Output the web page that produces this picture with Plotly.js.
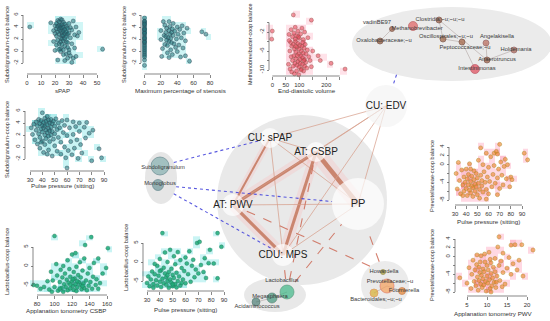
<!DOCTYPE html>
<html><head><meta charset="utf-8">
<script src="https://cdn.plot.ly/plotly-3.0.1.min.js"></script>
<style>html,body{margin:0;padding:0;background:#fff}#chart{width:550px;height:321px}</style>
</head><body><div id="chart"></div>
<script>
// ================= DATA =================
const pts_sPAP_subdo = [[2,4],[17,4.7],[19,3.4],[20,2.9],[20,4.2],[21,4.6],[21,2.5],[21,3.7],[22,4.1],[22,3.2],[22,1.8],[22,5.1],[23,4.9],[23,3.6],[23,2.8],[23,1.2],[23,4.3],[24,4.2],[24,3.4],[24,2.2],[24,1.5],[24,0.4],[24,5.3],[24,3.9],[25,5.2],[25,4.4],[25,3.8],[25,3.0],[25,2.0],[25,1.1],[25,2.6],[26,4.8],[26,4.0],[26,3.3],[26,2.6],[26,1.7],[26,0.2],[27,4.5],[27,3.6],[27,2.9],[27,0.8],[27,2.1],[28,4.1],[28,3.2],[28,2.4],[28,-0.5],[28,1.5],[29,3.8],[29,2.8],[29,1.4],[29,-1.2],[30,4.6],[30,3.0],[30,0.2],[30,-0.3],[31,2.2],[31,-0.8],[31,3.9],[32,3.5],[32,1.2],[32,-1.9],[33,5.0],[33,-1.2],[34,0.5],[34,2.7],[35,4.0],[35,-0.9],[36,2.5],[37,3.1],[22,-1.5],[26,-0.6],[24,-0.1],[27,-1.6],[29,0.6],[23,0.3],[40,-3.4],[54,0.3],[21,1.0],[20,0.1],[19,1.6]];
const pts_stenosis_subdo = [[0,5.5],[0,5.0],[0,4.7],[0,4.4],[0,4.1],[0,3.8],[0,3.5],[0,3.2],[0,2.9],[0,2.6],[0,2.3],[0,2.0],[0,1.7],[0,1.4],[0,1.1],[0,0.8],[0,0.5],[0,0.2],[0,-0.1],[0,-0.4],[0,-0.7],[0,-1.0],[0,-1.5],[0,4.9],[0,3.0],[0,2.1],[0,3.6],[0,4.5],[0,1.5],[0,-2.4],[20,3.4],[20,1.9],[21,-0.9],[22,0.4],[23,4.9],[24,2.6],[25,4.3],[25,1.1],[26,2.4],[27,3.8],[28,-0.3],[28,0.9],[29,2.2],[30,3.4],[30,1.6],[30,-1.1],[31,4.1],[31,2.8],[32,0.2],[32,2.1],[33,3.1],[33,1.4],[34,-0.6],[35,4.6],[35,2.6],[36,1.2],[37,3.3],[38,0.6],[39,2.0],[40,4.0],[40,-0.1],[41,2.8],[42,1.0],[43,3.6],[44,-1.0],[45,2.2],[46,4.2],[47,0.5],[48,3.0],[50,1.7],[50,-0.8],[52,3.8],[55,-1.7],[30,4.9],[26,3.1],[34,3.7],[27,1.8],[70,3.2],[75,2.8],[90,-3.3]];
const pts_EDV_methano = [[78,1.6],[145,0.5],[0,-1.8],[-2,-3.5],[62,-2.5],[70,-1.5],[75,-3.0],[80,-2.2],[85,-1.0],[90,-2.8],[95,-1.8],[100,-3.3],[105,-2.4],[110,-1.2],[115,-3.6],[120,-2.0],[68,-4.2],[72,-5.0],[78,-4.6],[82,-5.6],[86,-4.0],[88,-6.2],[92,-5.2],[95,-4.4],[98,-6.6],[100,-5.6],[102,-4.8],[105,-7.0],[108,-6.0],[110,-5.0],[112,-7.4],[115,-6.4],[118,-5.4],[120,-7.8],[125,-6.6],[130,-5.8],[65,-6.0],[70,-7.2],[75,-8.0],[80,-7.0],[84,-8.6],[88,-7.6],[92,-9.0],[96,-8.2],[100,-9.4],[104,-8.6],[108,-9.8],[112,-8.8],[116,-10.2],[120,-9.2],[124,-8.4],[128,-9.6],[135,-7.2],[140,-8.0],[60,-8.8],[66,-9.8],[72,-10.4],[82,-10.8],[90,-10.2],[98,-11.0],[107,-10.0],[85,-3.5],[93,-7.0],[97,-3.0],[103,-7.8],[113,-4.2],[122,-4.6],[77,-9.2],[87,-5.0],[117,-8.0],[170,-7.0],[178,-8.0],[218,-8.6],[270,-9.8],[145,-9.3],[150,-6.0],[132,-3.2],[63,-3.8]];
const pts_PP_subdo = [[31,3.2],[32,2.1],[33,3.8],[34,1.2],[35,4.2],[35,2.8],[36,0.5],[36,3.5],[37,4.6],[37,2.2],[38,3.9],[38,1.6],[38,-0.2],[39,4.4],[39,3.0],[40,5.7],[40,3.6],[40,2.5],[40,1.0],[41,4.1],[41,3.2],[41,-0.9],[42,4.8],[42,3.5],[42,2.0],[42,0.4],[43,4.3],[43,2.8],[43,1.4],[44,5.1],[44,3.7],[44,2.4],[45,4.5],[45,3.1],[45,1.8],[45,-0.5],[46,4.0],[46,2.7],[46,0.9],[47,4.6],[47,3.3],[47,2.0],[48,3.9],[48,2.6],[48,-1.5],[49,4.3],[49,1.3],[50,3.5],[50,2.2],[50,0.2],[51,4.7],[52,2.9],[52,-0.7],[53,4.0],[53,1.6],[54,3.2],[55,0.8],[55,-1.2],[56,4.4],[57,2.4],[58,0.0],[58,3.6],[59,-1.8],[60,4.5],[60,1.9],[61,-0.6],[62,3.2],[63,0.9],[64,-1.3],[65,4.2],[65,2.1],[66,-0.2],[67,3.4],[68,1.2],[69,-1.9],[70,4.0],[70,2.6],[71,0.4],[72,-1.0],[74,3.3],[75,1.5],[76,4.1],[78,2.3],[60,-3.5],[80,-2.3],[81,2.8],[86,-0.3],[88,-1.8],[44,-1.2],[39,0.8]];
const pts_CSBP_lacto = [[76,-5.0],[80,-5.2],[84,-6.0],[88,-5.5],[92,-4.0],[94,-6.2],[96,-1.5],[98,-3.8],[100,7.9],[100,-5.5],[102,0.5],[103,-2.5],[104,-6.5],[106,-4.2],[107,-1.0],[108,-5.8],[109,-3.0],[110,-6.8],[110,0.0],[111,-4.8],[112,-2.0],[113,-5.5],[114,-3.6],[115,-6.4],[115,1.5],[116,-4.4],[117,-0.8],[118,-5.9],[118,-2.8],[119,-6.9],[120,-4.0],[120,3.0],[121,-5.2],[122,-1.6],[122,-6.3],[123,-3.3],[124,3.4],[124,-4.8],[125,-6.6],[125,-0.2],[126,-5.6],[127,-2.4],[128,-4.3],[128,-6.9],[129,1.0],[130,-5.0],[130,-3.0],[131,-6.1],[132,-1.2],[133,-4.6],[134,-5.8],[134,2.0],[135,5.5],[136,-3.8],[137,-6.4],[138,-2.0],[139,-5.2],[140,-0.5],[141,-4.2],[142,7.6],[143,-6.0],[144,-2.8],[145,0.8],[147,-5.0],[148,-3.5],[150,2.0],[150,-6.0],[152,-4.5],[155,-2.0],[159,-0.5],[161,4.7],[112,-7.0],[118,-4.9],[126,-4.0],[121,-3.5],[132,-5.3],[106,-6.0],[97,-6.8]];
const pts_PP_lacto = [[30,-5.5],[31,-3.8],[32,-6.4],[33,-4.6],[34,-2.5],[35,-5.8],[35,-6.8],[36,-3.2],[37,-4.8],[38,-1.0],[38,-6.2],[39,-3.6],[40,-5.2],[40,0.8],[41,-6.6],[41,-2.2],[42,7.6],[42,-4.4],[43,-5.6],[43,-1.5],[44,-3.0],[44,2.5],[45,-6.0],[45,-4.0],[46,-5.0],[46,0.0],[47,-2.6],[47,-6.8],[48,-4.6],[48,3.2],[49,-5.4],[49,-1.8],[50,-3.4],[50,-6.4],[51,1.5],[51,-4.2],[52,-5.8],[52,-0.6],[53,-2.8],[54,-5.0],[54,2.6],[55,-3.8],[56,-6.2],[56,0.5],[57,-1.6],[58,-4.6],[59,-2.4],[60,-5.6],[60,1.2],[61,-0.4],[62,-3.2],[63,2.8],[64,-5.2],[65,-1.0],[66,0.6],[67,-4.0],[68,-2.0],[69,5.0],[70,-3.0],[71,5.3],[72,-0.8],[74,-2.6],[75,1.0],[76,-4.2],[78,-0.3],[79,3.2],[82,-0.4],[85,-4.3],[85,7.6],[88,4.0],[44,-6.9],[50,-5.9],[53,-6.7],[46,-3.5],[57,-5.5],[40,-2.4],[36,-0.5]];
const pts_PP_prevo = [[31,-2.0],[32,-5.5],[33,0.5],[34,-3.6],[35,-6.6],[36,-1.2],[37,-4.6],[38,-2.8],[38,-6.0],[39,-4.0],[40,-5.4],[40,-1.0],[41,-3.2],[41,-7.0],[42,-4.6],[42,-2.2],[43,-5.8],[43,0.2],[44,-3.8],[44,-6.4],[45,-4.8],[45,-2.6],[46,-5.2],[46,-7.2],[47,-3.4],[47,-1.4],[48,-4.4],[48,-6.0],[49,-2.0],[49,-5.0],[50,-3.0],[50,-6.8],[51,-4.2],[51,1.0],[52,-5.6],[52,-7.6],[53,-2.4],[54,-4.8],[54,-3.6],[55,-6.2],[55,0.0],[56,-1.6],[57,-4.0],[58,-5.6],[58,2.6],[59,-2.8],[60,-0.6],[60,-6.6],[61,-3.8],[62,1.8],[63,-5.0],[64,-2.2],[65,-0.2],[65,2.6],[66,-4.2],[67,3.0],[68,-3.0],[68,-6.8],[69,-1.0],[70,4.6],[70,-5.4],[71,0.6],[72,-2.4],[73,-4.6],[74,-0.4],[75,1.2],[76,-3.2],[77,0.0],[79,-5.0],[80,-2.8],[81,-3.4],[92,2.6],[95,1.1],[68,2.4],[58,-7.8],[44,-1.0],[37,-7.0],[53,3.8]];
const pts_PWV_prevo = [[3.2,-4.8],[5,-6.0],[5.5,-2.5],[6,-7.2],[6.2,-4.0],[6.5,-0.8],[6.8,-5.6],[7,-3.0],[7.2,-6.6],[7.4,-1.8],[7.6,-4.6],[7.8,-7.6],[8,-5.4],[8,-2.4],[8.2,-3.6],[8.4,-6.2],[8.5,0.2],[8.6,-4.2],[8.8,-7.0],[9,-5.0],[9,-2.8],[9.2,-6.4],[9.3,-3.4],[9.5,-1.2],[9.6,-5.6],[9.8,-7.8],[10,-4.4],[10,-2.0],[10.2,-6.0],[10.3,-3.0],[10.5,1.0],[10.6,-5.2],[10.8,-7.2],[11,-3.8],[11,-1.4],[11.2,-6.6],[11.4,-4.8],[11.6,-2.4],[11.8,-5.8],[12,-0.4],[12,-3.4],[12.2,-7.0],[12.5,-4.4],[12.7,2.2],[13,-2.0],[13,4.5],[13.2,-5.4],[13.5,-1.0],[14,-3.6],[14,0.8],[14.5,-6.2],[15,-2.6],[15.5,-0.2],[16,-4.0],[16,2.6],[16.5,-1.6],[17,2.7],[17.5,-3.0],[18,-0.8],[18.7,2.7],[19,-4.4],[21.5,1.5],[11,-8.0],[9.4,0.6],[8.3,-1.2],[7.5,0.4],[10.8,-0.6],[13.8,-6.8],[12.3,-5.8]];

const ticks_sPAP = [0,10,20,30,40,50];
const ticks_stenosis = [0,20,40,60,80];
const ticks_EDV = [0,50,100,150,200,250];
const labels_EDV = ['0','50','100','','200',''];
const ticks_PP = [30,40,50,60,70,80,90];
const ticks_CSBP = [80,100,120,140,160];
const ticks_PWV = [5,10,15,20];
const ticks_subdo = [-2,0,2,4,6];
const ticks_methano = [-10,-8,-6,-4,-2,0];
const labels_methano = ['-10','','-6','','-2',''];
const ticks_lacto = [-5,0,5];
const ticks_prevo = [-8,-6,-4,-2,0,2,4];
const labels_prevo = ['-8','','-4','','0','2','4'];

const xTitles = ['sPAP','Maximum percentage of stenosis','End-diastolic volume','Pulse pressure (sitting)','Applanation tonometry CSBP','Pulse pressure (sitting)','Pulse pressure (sitting)','Applanation tonometry PWV'];
const yTitles = ['Subdoligranulum-coop balance','Subdoligranulum-coop balance','Methanobrevibacter-coop balance','Subdoligranulum-coop balance','Lactobacillus-coop balance','Lactobacillus-coop balance','Prevotellaceae-coop balance','Prevotellaceae-coop balance'];

// network
const hubNames = ['CU: sPAP','AT: CSBP','AT: PWV','CDU: MPS','PP','CU: EDV'];
const hubX = [270,316,233,283,358,386];
const hubY = [138,152,205,255,204,106];
const hubEdges = [['CU: sPAP','AT: CSBP',1],['CU: sPAP','AT: PWV',2],['CU: sPAP','CDU: MPS',1],['CU: sPAP','PP',1],['AT: CSBP','AT: PWV',3.2],['AT: CSBP','PP',4.5],['AT: CSBP','CDU: MPS',3],['AT: PWV','CDU: MPS',3.2],['AT: PWV','PP',1],['CDU: MPS','PP',1],['CU: EDV','CU: sPAP',1],['CU: EDV','AT: CSBP',1],['CU: EDV','AT: PWV',1],['CU: EDV','CDU: MPS',1],['CU: EDV','PP',1]];
const taxa = ['Subdoligranulum','Monoglobus','Lactobacillus','Megasphaera','Acidaminococcus','Howardella','Prevotellaceae;~u','Fournierella','Bacteroidales;~u;~u','vadinBE97','Methanobrevibacter','Oxalobacteraceae;~u','Clostridia;~u;~u;~u','Oscillospirales;~u;~u','Peptococcaceae;~u','Angelakisella','Holdemania','Anaerotruncus','Intestinimonas'];
const taxaX = [160,158,287,272,256,383,387,402,374,392,413,380,439,443,462,486,514,487,475];
const taxaY = [166,185,292,298,302,272,286,291,293,29,26,41,20,39,42,43,50,60,69];
const taxaCluster = ['left','left','bottom','bottom','bottom','right','right','right','right','top','top','top','top','top','top','top','top','top','top'];
const taxaLinks = [['Subdoligranulum','CU: sPAP',-1],['Monoglobus','PP',-1],['Monoglobus','CDU: MPS',-1],['Methanobrevibacter','CU: EDV',-1],['Lactobacillus','AT: CSBP',1],['Lactobacillus','CDU: MPS',1],['Lactobacillus','PP',1],['Howardella','PP',1],['Howardella','AT: PWV',1]];
const taxaEdges = [['vadinBE97','Oxalobacteraceae;~u'],['Clostridia;~u;~u;~u','Anaerotruncus'],['Clostridia;~u;~u;~u','Oscillospirales;~u;~u'],['Oscillospirales;~u;~u','Peptococcaceae;~u'],['Angelakisella','Anaerotruncus'],['Holdemania','Anaerotruncus'],['Peptococcaceae;~u','Intestinimonas'],['Lactobacillus','Megasphaera'],['Megasphaera','Acidaminococcus'],['Prevotellaceae;~u','Fournierella'],['Prevotellaceae;~u','Bacteroidales;~u;~u']];

// ================= STYLE / LAYOUT =================
const W = 550, H = 321;
const FONT = 'Liberation Sans, Arial, Helvetica, sans-serif';
const TEAL = {fill:'rgba(35,115,120,0.55)', line:'rgba(45,70,85,0.75)'};
const RED = {fill:'rgba(230,70,85,0.55)', line:'rgba(140,80,70,0.7)'};
const GREEN = {fill:'rgba(30,170,120,0.85)', line:'rgba(30,110,80,0.6)'};
const ORANGE = {fill:'rgba(240,130,40,0.6)', line:'rgba(170,140,40,0.8)'};
const CYANSCALE = [[0,'rgba(255,255,255,0)'],[0.0001,'rgba(215,248,248,0.85)'],[0.5,'rgba(170,235,235,0.9)'],[1,'rgba(110,205,205,0.95)']];
const PINKSCALE = [[0,'rgba(255,255,255,0)'],[0.0001,'rgba(255,232,238,0.85)'],[0.5,'rgba(255,200,215,0.9)'],[1,'rgba(250,160,185,0.95)']];

const panels = [
 {pts:pts_sPAP_subdo, xcal:[[0,27],[50,97]], ycal:[[6,15],[-2,63]], box:[20,8,108,70], xAx:74, yAx:23, xt:ticks_sPAP, yt:ticks_subdo, col:TEAL, cs:CYANSCALE, bx:5, by:1, xT:[62,90], yT:[7,45], yfs:5.6},
 {pts:pts_stenosis_subdo, xcal:[[0,144.5],[80,210]], ycal:[[6,15],[-2,63]], box:[137,8,222,70], xAx:74, yAx:141, xt:ticks_stenosis, yt:ticks_subdo, col:TEAL, cs:CYANSCALE, bx:6, by:1, xT:[180,91], yT:[124,45], yfs:5.6},
 {pts:pts_EDV_methano, xcal:[[0,272.3],[250,339.7]], ycal:[[-2,32],[-10,70]], box:[266,8,350,75], xAx:76, yAx:269, xt:ticks_EDV, xtt:labels_EDV, yt:ticks_methano, ytt:labels_methano, col:RED, cs:PINKSCALE, bx:25, by:1.5, xT:[307,91], yT:[250,44], yfs:5.4},
 {pts:pts_PP_subdo, xcal:[[30,30],[90,104]], ycal:[[6,111],[-2,159]], box:[26,105,108,168], xAx:171, yAx:25, xt:ticks_PP, yt:ticks_subdo, col:TEAL, cs:CYANSCALE, bx:5, by:1, xT:[62,186], yT:[7,140], yfs:5.6},
 {pts:pts_CSBP_lacto, xcal:[[80,37],[160,107]], ycal:[[5,247],[-5,285]], box:[30,230,112,292], xAx:295, yAx:33, xt:ticks_CSBP, yt:ticks_lacto, col:GREEN, cs:CYANSCALE, bx:8, by:1.5, xT:[66,310], yT:[7,262], yfs:5.6},
 {pts:pts_PP_lacto, xcal:[[30,147],[90,224]], ycal:[[5,243],[-5,281]], box:[142,228,229,288], xAx:291, yAx:143, xt:ticks_PP, yt:ticks_lacto, col:GREEN, cs:CYANSCALE, bx:5, by:1.5, xT:[185,309], yT:[126,258], yfs:5.6},
 {pts:pts_PP_prevo, xcal:[[30,455],[90,522]], ycal:[[4,147],[-8,200]], box:[450,140,530,202], xAx:205, yAx:449, xt:ticks_PP, yt:ticks_prevo, ytt:labels_prevo, col:ORANGE, cs:PINKSCALE, bx:5, by:1.5, xT:[488,221], yT:[432,176], yfs:5.6},
 {pts:pts_PWV_prevo, xcal:[[5,467],[20,527]], ycal:[[4,239],[-8,292]], box:[456,232,535,293], xAx:296, yAx:455, xt:ticks_PWV, yt:ticks_prevo, ytt:labels_prevo, col:ORANGE, cs:PINKSCALE, bx:1.5, by:1.5, xT:[493,313], yT:[432,265], yfs:5.6}
];

function mapRange(cal, a, b){
  const k = (cal[1][1]-cal[0][1])/(cal[1][0]-cal[0][0]);
  return [cal[0][0]+(a-cal[0][1])/k, cal[0][0]+(b-cal[0][1])/k];
}

const data = [], shapes = [], annotations = [];
const layout = {width:W, height:H, margin:{l:0,r:0,t:0,b:0}, paper_bgcolor:'#fff', plot_bgcolor:'rgba(0,0,0,0)', showlegend:false, font:{family:FONT, color:'#333'}};
const AXC = '#555';

panels.forEach((p,i)=>{
  const n = i+1, xs = n===1?'':String(n);
  const xid = 'x'+xs, yid = 'y'+xs;
  const xr = mapRange(p.xcal, p.box[0], p.box[2]);
  const yr = mapRange(p.ycal, p.box[3], p.box[1]);
  const xs_ = p.pts.map(d=>d[0]), ys_ = p.pts.map(d=>d[1]);
  layout['xaxis'+xs] = {domain:[p.box[0]/W, p.box[2]/W], range:xr, anchor:'free', position:1-p.xAx/H, showgrid:false, zeroline:false, showline:false, ticks:'outside', ticklen:2.5, tickwidth:0.7, tickcolor:AXC, tickmode:'array', tickvals:p.xt, ticktext:(p.xtt||p.xt.map(String)), tickfont:{size:6,color:'#333',family:FONT}, fixedrange:true};
  layout['yaxis'+xs] = {domain:[1-p.box[3]/H, 1-p.box[1]/H], range:yr, anchor:'free', position:p.yAx/W, showgrid:false, zeroline:false, showline:false, ticks:'outside', ticklen:2.5, tickwidth:0.7, tickcolor:AXC, tickmode:'array', tickvals:p.yt, ticktext:(p.ytt||p.yt.map(String)), tickangle:-90, tickfont:{size:6,color:'#333',family:FONT}, fixedrange:true};
  shapes.push({type:'line', xref:xid, yref:'paper', x0:p.xt[0], x1:p.xt[p.xt.length-1], y0:1-p.xAx/H, y1:1-p.xAx/H, line:{color:AXC,width:0.7}});
  shapes.push({type:'line', xref:'paper', yref:yid, x0:p.yAx/W, x1:p.yAx/W, y0:p.yt[0], y1:p.yt[p.yt.length-1], line:{color:AXC,width:0.7}});
  data.push({type:'histogram2d', x:xs_, y:ys_, xaxis:xid, yaxis:yid, colorscale:p.cs, zmin:0, showscale:false, hoverinfo:'skip',
    xbins:{start:xr[0], end:xr[1], size:p.bx}, ybins:{start:yr[0], end:yr[1], size:p.by}});
  data.push({type:'scatter', mode:'markers', x:xs_, y:ys_, xaxis:xid, yaxis:yid, cliponaxis:false, hoverinfo:'skip',
    marker:{size:4, color:p.col.fill, line:{color:p.col.line, width:0.6}}});
  annotations.push({xref:'paper', yref:'paper', x:p.xT[0]/W, y:1-p.xT[1]/H, text:xTitles[i], showarrow:false, xanchor:'center', yanchor:'middle', font:{size:6.2,color:'#333',family:FONT}});
  annotations.push({xref:'paper', yref:'paper', x:p.yT[0]/W, y:1-p.yT[1]/H, text:yTitles[i], showarrow:false, textangle:-90, xanchor:'center', yanchor:'middle', font:{size:p.yfs,color:'#333',family:FONT}});
});

// ---------- network overlay ----------
layout.xaxis9 = {domain:[0,1], range:[0,W], visible:false, fixedrange:true, anchor:'y9'};
layout.yaxis9 = {domain:[0,1], range:[H,0], visible:false, fixedrange:true, anchor:'x9'};
const clusters = {
  main:{cx:302, cy:200, rx:85, ry:85, color:'#e9e9e9'},
  left:{cx:161, cy:178, rx:16, ry:26, color:'#e6e6e6'},
  bottom:{cx:275, cy:295, rx:31, ry:17, color:'#e8e8e8'},
  right:{cx:385, cy:285, rx:24, ry:24, color:'#ebebeb'},
  top:{cx:452, cy:44, rx:100, ry:37, color:'#ebebeb'}
};
Object.values(clusters).forEach(c=>{
  shapes.push({type:'circle', xref:'x9', yref:'y9', x0:c.cx-c.rx, x1:c.cx+c.rx, y0:c.cy-c.ry, y1:c.cy+c.ry, fillcolor:c.color, line:{width:0}, layer:'below'});
});
const hubR = [10,10,11,11,26,21];
const hubFill = ['#fff','#fff','#fff','#fff','#fff','#f3f3f3'];
const hubFont = [10,10,10,10,11,10];
const taxaSize = [18,11,14,10,8,5,14,7,8,5,9,6,6,6,6,6,6,6,9];
const taxaFill = ['rgba(70,140,140,0.6)','rgba(60,120,125,0.7)','rgba(45,180,125,0.9)','rgba(35,135,105,0.85)','rgba(50,110,100,0.85)','#a8a030','#f5a05a','#e8822e','#d8b030','#9a5a40','#e06060','#8a5030','#9a5a40','#9a6040','#a06040','#b86858','#a86050','#9a5a40','#e04858'];
const taxaLine = ['rgba(40,90,100,0.8)','rgba(40,90,100,0.8)','rgba(30,120,80,0.8)','rgba(30,90,70,0.8)','rgba(30,80,70,0.8)','#807020','#e06040','#c06020','#e08030','#603020','#b04040','#603020','#603020','#603020','#603020','#804040','#804040','#603020','#b03040'];
const taxaLabelX = [163,160,282,270,257,384,390,404,376,377,417,384,440,446,465,497,516,497,477];
const taxaLabelY = [168,184,281,297,307,272,282,291,300,23,29,41,20,37,48,37,50,60,69];

const hi = name => hubNames.indexOf(name);
const ti = name => taxa.indexOf(name);
function T(o){ return Object.assign({type:'scatter', xaxis:'x9', yaxis:'y9', hoverinfo:'skip', cliponaxis:false, showlegend:false}, o); }

hubEdges.forEach(e=>{
  const a=hi(e[0]), b=hi(e[1]);
  if(e[2]>=2) data.push(T({mode:'lines', x:[hubX[a],hubX[b]], y:[hubY[a],hubY[b]], line:{color:'rgba(255,170,170,0.22)', width:e[2]*3.5}}));
});
hubEdges.forEach(e=>{
  const a=hi(e[0]), b=hi(e[1]);
  const strong = e[2]>=2;
  data.push(T({mode:'lines', x:[hubX[a],hubX[b]], y:[hubY[a],hubY[b]], line:{color: strong?'rgba(195,118,92,0.85)':'rgba(214,155,135,0.7)', width:e[2]*1.0}}));
});
function exitT(px,py,qx,qy,c){
  const dx=qx-px, dy=qy-py, ax=(px-c.cx)/c.rx, ay=(py-c.cy)/c.ry, bx=dx/c.rx, by=dy/c.ry;
  const A=bx*bx+by*by, B=2*(ax*bx+ay*by), C=ax*ax+ay*ay-1;
  return (-B+Math.sqrt(B*B-4*A*C))/(2*A);
}
taxaLinks.forEach(l=>{
  const t=ti(l[0]), h=hi(l[1]);
  const px=taxaX[t], py=taxaY[t], qx=hubX[h], qy=hubY[h];
  const len=Math.hypot(qx-px,qy-py);
  const t1=exitT(px,py,qx,qy,clusters[taxaCluster[t]]);
  const t2=1-hubR[h]/len;
  data.push(T({mode:'lines', x:[px+(qx-px)*t1, px+(qx-px)*t2], y:[py+(qy-py)*t1, py+(qy-py)*t2],
    line:{color: l[2]<0?'rgba(70,70,220,0.9)':'rgba(205,105,85,0.85)', width:1.1, dash: l[2]<0?'dot':'dash'}}));
});
taxaEdges.forEach(e=>{
  const a=ti(e[0]), b=ti(e[1]);
  data.push(T({mode:'lines', x:[taxaX[a],taxaX[b]], y:[taxaY[a],taxaY[b]], line:{color:'rgba(140,120,115,0.6)', width:0.6}}));
});
data.push(T({mode:'markers', x:hubX, y:hubY, marker:{size:hubR.map(r=>2*r), color:hubFill, line:{width:0}}}));
data.push(T({mode:'markers', x:taxaX, y:taxaY, marker:{size:taxaSize, color:taxaFill, line:{color:taxaLine, width:0.8}}}));
data.push(T({mode:'text', x:taxaLabelX, y:taxaLabelY, text:taxa, textposition:'middle center', textfont:{size:5.8, color:'#3a3a3a', family:FONT}}));
data.push(T({mode:'text', x:hubX, y:hubY, text:hubNames, textposition:'middle center', textfont:{size:hubFont, color:'#222', family:FONT}}));

layout.shapes = shapes;
layout.annotations = annotations;
Plotly.newPlot('chart', data, layout, {staticPlot:true, displayModeBar:false});
</script>
</body></html>
